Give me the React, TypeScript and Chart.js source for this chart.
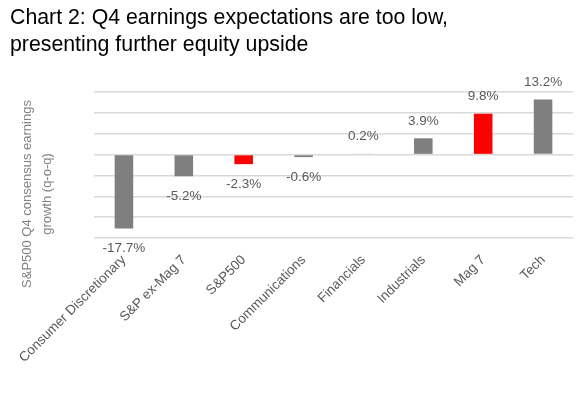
import React, { useEffect, useRef } from "react";
import { Chart, registerables } from "chart.js";

Chart.register(...registerables);

const titleLines = [
  "Chart 2: Q4 earnings expectations are too low,",
  "presenting further equity upside",
];
const yTitleLines = ["S&P500 Q4 consensus earnings", "growth (q-o-q)"];
const categories = [
  "Consumer Discretionary",
  "S&P ex-Mag 7",
  "S&P500",
  "Communications",
  "Financials",
  "Industrials",
  "Mag 7",
  "Tech",
];
const growth = [-17.7, -5.2, -2.3, -0.6, 0.2, 3.9, 9.8, 13.2];
const highlighted = ["S&P500", "Mag 7"];
const yMin = -20;
const yMax = 15;
const yStep = 5;

const GREY = "#7f7f7f";
const RED = "#ff0000";
const TEXT = "#595959";
const FONT = "'Liberation Sans', Arial, sans-serif";

const valueLabels = {
  id: "valueLabels",
  afterDatasetsDraw(chart: any) {
    const ctx = chart.ctx;
    const meta = chart.getDatasetMeta(0);
    ctx.save();
    ctx.font = `13.5px ${FONT}`;
    ctx.fillStyle = TEXT;
    ctx.textAlign = "center";
    ctx.textBaseline = "middle";
    meta.data.forEach((bar: any, i: number) => {
      const v = growth[i];
      const y = v >= 0 ? bar.y - 17 : bar.y + 20;
      ctx.fillText(`${v.toFixed(1)}%`, bar.x, y);
    });
    ctx.restore();
  },
};

const yTitle = {
  id: "yTitle",
  afterDraw(chart: any) {
    const ctx = chart.ctx;
    const cx = 37;
    const cy = chart.chartArea.top + 102;
    ctx.save();
    ctx.translate(cx, cy);
    ctx.rotate(-Math.PI / 2);
    ctx.font = `13px ${FONT}`;
    ctx.fillStyle = "#808080";
    ctx.textAlign = "center";
    ctx.textBaseline = "middle";
    const lh = 20;
    yTitleLines.forEach((t, i) => {
      ctx.fillText(t, 0, (i - (yTitleLines.length - 1) / 2) * lh);
    });
    ctx.restore();
  },
};

export default function App() {
  const ref = useRef<HTMLCanvasElement>(null);
  useEffect(() => {
    if (!ref.current) return;
    const chart = new Chart(ref.current, {
      type: "bar",
      data: {
        labels: categories,
        datasets: [
          {
            data: growth,
            backgroundColor: categories.map((c) =>
              highlighted.includes(c) ? RED : GREY
            ),
            barPercentage: 0.31,
            categoryPercentage: 1,
          },
        ],
      },
      options: {
        responsive: false,
        animation: false,
        devicePixelRatio: 1,
        layout: { padding: { left: 94, right: 7, top: 92, bottom: 0 } },
        plugins: {
          legend: { display: false },
          title: { display: false },
          tooltip: { enabled: false },
        },
        scales: {
          x: {
            type: "category",
            offset: true,
            afterFit: (s: any) => {
              s.height = 158;
            },
            grid: { display: false },
            border: { display: false },
            ticks: {
              autoSkip: false,
              minRotation: 45,
              maxRotation: 45,
              padding: 6,
              color: TEXT,
              font: { family: FONT, size: 13.5 },
            },
          },
          y: {
            min: yMin,
            max: yMax,
            afterFit: (s: any) => {
              s.width = 0;
            },
            ticks: { display: false, stepSize: yStep },
            border: { display: false },
            grid: {
              color: "#d9d9d9",
              lineWidth: 1.5,
              drawTicks: false,
            },
          },
        },
      },
      plugins: [valueLabels, yTitle],
    });
    return () => chart.destroy();
  }, []);

  return (
    <div
      style={{
        position: "fixed",
        left: 0,
        top: 0,
        width: 580,
        height: 396,
        background: "#fff",
      }}
    >
      <canvas
        ref={ref}
        width={580}
        height={396}
        style={{ position: "absolute", left: 0, top: 0 }}
      />
      <div
        style={{
          position: "absolute",
          left: 10,
          top: 4,
          fontFamily: FONT,
          fontSize: 21.3,
          lineHeight: "27px",
          color: "#000",
          whiteSpace: "nowrap",
        }}
      >
        {titleLines.map((t) => (
          <div key={t}>{t}</div>
        ))}
      </div>
    </div>
  );
}
